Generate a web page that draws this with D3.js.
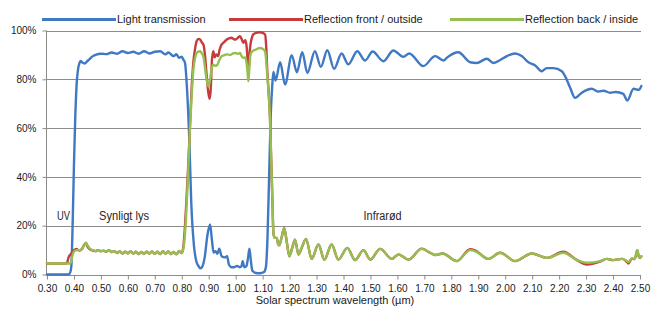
<!DOCTYPE html>
<html><head><meta charset="utf-8">
<script src="https://cdn.jsdelivr.net/npm/d3@7"></script>
<style>
html,body{margin:0;padding:0;background:#fff;}
svg{display:block;font-family:"Liberation Sans",Arial,sans-serif;}
</style></head>
<body><svg id="c" width="651" height="311"></svg>
<script>
// ---- data ----
const xTickLabels = ["0.30","0.40","0.50","0.60","0.70","0.80","0.90","1.00","1.10","1.20","1.30","1.40","1.50","1.60","1.70","1.80","1.90","2.00","2.10","2.20","2.30","2.40","2.50"];
const yTickLabels = ["0%","20%","40%","60%","80%","100%"];
const seriesNames = ["Light transmission","Reflection front / outside","Reflection back / inside"];
const regionLabels = ["UV","Synligt lys","Infrarød"];

const transWl = [0.30,0.37,0.38,0.385,0.39,0.395,0.40,0.405,0.41,0.415,0.42,0.425,0.43,0.44,0.45,0.46,0.47,0.48,0.50,0.52,0.54,0.56,0.58,0.60,0.62,0.64,0.66,0.68,0.70,0.72,0.74,0.75,0.77,0.78,0.79,0.80,0.806,0.812,0.82,0.828,0.835,0.845,0.855,0.862,0.868,0.875,0.885,0.895,0.905,0.912,0.918,0.925,0.932,0.939,0.948,0.96,0.968,0.975,0.985,0.995,1.005,1.015,1.022,1.026,1.032,1.04,1.046,1.051,1.056,1.062,1.075,1.09,1.105,1.112,1.118,1.124,1.13,1.136,1.14,1.148,1.165,1.183,1.208,1.227,1.247,1.266,1.294,1.316,1.340,1.365,1.393,1.418,1.451,1.480,1.508,1.548,1.585,1.622,1.644,1.696,1.740,1.771,1.785,1.826,1.870,1.894,1.932,1.956,1.975,2.006,2.037,2.061,2.086,2.111,2.135,2.154,2.179,2.210,2.222,2.241,2.259,2.284,2.321,2.346,2.365,2.389,2.41,2.438,2.453,2.476,2.495,2.505];
const transVal = [0,0,0,0.5,3,20,45,65,78,84,86.5,87.5,87,86.5,87.5,88.5,89.5,90,90.5,90.3,91,90.5,91.5,90.8,91.3,90.5,91.5,90.6,91.3,91.5,90.2,91,89.5,90.3,88.8,89.3,88,86.7,75,55,30,12,5,3.5,2.5,3,7,16,20.5,14,9,9.5,8.5,10.6,7.5,7,7.5,4,3,3,3.5,3,3.5,5.5,3,3.5,7,10.6,6,1.5,0.6,0.5,1,3,15,40,65,78,83,79.5,87,77.9,89.8,82.9,91.1,82.6,91.5,85.1,91.9,84.3,90.6,86.1,91.5,87.7,91.4,87.4,91.8,89.2,90.6,85.4,89.5,87.7,89,91.1,87,86.7,88.4,86.7,87.5,89.5,90.6,89.5,87,85.7,83.3,84.6,84.6,83.3,81.3,76.5,72.4,74.5,76.1,75,75.3,74.5,74.8,74,71.3,76.1,75.7,77.3];

const visWl = [0.48,0.49,0.50,0.51,0.52,0.53,0.54,0.55,0.56,0.57,0.58,0.59,0.60,0.61,0.62,0.63,0.64,0.65,0.66,0.67,0.68,0.69,0.70,0.71,0.72,0.73,0.74,0.75,0.76,0.77,0.78,0.79,0.80];
const visVal = [9.6,10,9.5,9.8,9.4,10,9.2,9.6,8.8,9.4,8.6,9.3,8.7,9.4,8.6,9.3,8.4,9.2,8.5,9.3,8.6,9.4,8.5,9.3,8.4,9.5,8.6,9.4,8.4,9.2,8.3,9.5,8.8];

const frontWl = [0.30,0.37,0.375,0.38,0.39,0.40,0.41,0.415,0.42,0.43,0.44,0.445,0.45,0.46,0.47].concat(visWl,[0.806,0.812,0.818,0.824,0.83,0.836,0.843,0.85,0.855,0.862,0.868,0.875,0.88,0.886,0.892,0.898,0.903,0.907,0.912,0.917,0.922,0.928,0.935,0.94,0.948,0.955,0.967,0.975,0.985,0.992,1.0,1.008,1.016,1.022,1.028,1.035,1.04,1.044,1.047,1.051,1.055,1.06,1.065,1.075,1.09,1.1,1.109,1.113,1.117,1.122,1.127,1.131,1.134,1.137,1.14,1.145,1.152,1.158,1.162,1.17,1.18,1.19,1.199,1.21,1.22,1.233,1.245,1.261,1.282,1.307,1.329,1.356,1.381,1.414,1.443,1.474,1.499,1.536,1.579,1.604,1.641,1.69,1.72,1.74,1.768,1.82,1.87,1.89,1.937,1.981,2.037,2.098,2.154,2.216,2.266,2.303,2.352,2.377,2.40,2.42,2.435,2.45,2.457,2.47,2.48,2.485,2.49,2.495,2.50,2.505]);
const frontVal = [4.5,4.5,5,7,8.5,10,10.5,10,9.8,10.5,12.5,12.8,11.5,10.2,9.8].concat(visVal,[11.6,20,32,45,60,75,87,93,95.6,96.5,96.3,95,94.3,90,82,75,72,75,88,91.5,89,90.2,89.5,92,94.3,95,96.3,96.8,97,96.5,96.3,97,97.7,96.5,95,96,94,88,82.7,90,94.3,97,98.4,99,99.3,99,98.4,94,84,75,65,50,39,27,17,15,15,12.3,12,15,19.1,13,7.5,11,14.3,8.2,11,14.6,6.4,12.3,6.1,12.3,6.1,10.9,5.9,10,6.1,10.5,6.4,8.2,6.1,10.6,9,8,8.6,5.5,10.4,9.8,6.4,8.9,5.5,8.6,6.8,9.3,5.9,4.1,5.3,6.4,5.9,6.2,6.4,5.3,4.5,6.5,6.3,8,10,7.5,6.8,7.5]);

const backWl = [0.30,0.385,0.39,0.395,0.40,0.41,0.42,0.43,0.44,0.445,0.45,0.46,0.47].concat(visWl,[0.805,0.81,0.815,0.82,0.826,0.83,0.836,0.843,0.85,0.855,0.868,0.875,0.88,0.886,0.892,0.899,0.905,0.912,0.917,0.925,0.932,0.94,0.948,0.955,0.967,0.98,0.99,1.0,1.01,1.016,1.022,1.028,1.035,1.04,1.044,1.047,1.051,1.055,1.062,1.075,1.09,1.1,1.109,1.113,1.117,1.122,1.127,1.131,1.134,1.137,1.14,1.145,1.152,1.158,1.162,1.17,1.18,1.19,1.199,1.21,1.22,1.233,1.245,1.261,1.282,1.307,1.329,1.356,1.381,1.414,1.443,1.474,1.499,1.536,1.579,1.604,1.641,1.69,1.72,1.74,1.768,1.82,1.87,1.89,1.937,1.981,2.037,2.098,2.154,2.216,2.266,2.303,2.352,2.377,2.40,2.42,2.435,2.45,2.457,2.47,2.48,2.485,2.49,2.495,2.50,2.505]);
const backVal = [4.5,4.5,5.5,8,9.5,10,10,10.5,12.5,13,12,10.5,10].concat(visVal,[10,14,22,33,48,59,72,84,89,90.8,91.5,90.5,89.5,85,80,77,80,85,86,85.5,86,88,89.5,89.8,90.2,90,90.6,90.8,90.4,90.8,89.5,88.8,89,87,83,79.2,85,90.2,91.5,92.2,92.8,92.5,91.5,88,82,75,65,50,39,27,17,15,15,12.3,12,15,19.1,13,7.5,11,14.3,8.2,11,14.6,6.4,12.3,6.1,12.3,6.1,10.9,5.9,10,6.1,10.5,6.4,8.2,6.1,10.5,9,8,8.6,5.5,10,9.5,6.4,8.9,5.5,8.6,6.8,8.9,5.9,4.8,5.5,6.4,5.9,6.2,6.4,5.6,5.1,6.6,6.3,8,10,7.5,6.8,7.5]);

// ---- chart ----
const svg = d3.select("#c");
const x = d3.scaleLinear().domain([0.30,2.50]).range([47,640]);
const y = d3.scaleLinear().domain([0,100]).range([274.5,30.5]);
const colors = ["#3f78c3","#c63c3c","#95bf4f"];

// gridlines
svg.append("g").selectAll("line").data([20,40,60,80,100]).join("line")
  .attr("x1",46).attr("x2",641).attr("y1",d=>Math.round(y(d))+0.5).attr("y2",d=>Math.round(y(d))+0.5)
  .attr("stroke","#8c8c8c").attr("stroke-width",1);

// axes
const xAxis = d3.axisBottom(x).tickValues(xTickLabels.map(Number)).tickFormat((d,i)=>xTickLabels[i]).tickSize(4).tickPadding(5);
const gx = svg.append("g").attr("transform",`translate(0,${Math.round(y(0))+0.5})`).call(xAxis);
gx.select(".domain").attr("d","M46,0H641").attr("stroke","#8c8c8c");
gx.selectAll(".tick line").attr("stroke","#8c8c8c");
gx.selectAll(".tick text").attr("fill","#1a1a1a").style("font-size","10px").style("font-family","'Liberation Sans',Arial,sans-serif");

const yAxis = d3.axisLeft(y).tickValues([0,20,40,60,80,100]).tickFormat((d,i)=>yTickLabels[i]).tickSize(4).tickPadding(6);
const gy = svg.append("g").attr("transform","translate(46.5,0)").call(yAxis);
gy.select(".domain").attr("d",`M0,${y(100)}V${y(0)}`).attr("stroke","#8c8c8c");
gy.selectAll(".tick line").attr("stroke","#8c8c8c");
gy.selectAll(".tick text").attr("fill","#1a1a1a").style("font-size","10px").style("font-family","'Liberation Sans',Arial,sans-serif");

// region labels
const regionX = [0.361,0.586,1.545];
const regionW = [13,50,38];
svg.append("g").selectAll("text").data(regionLabels).join("text")
  .attr("x",(d,i)=>x(regionX[i])).attr("y",220).attr("text-anchor","middle")
  .attr("textLength",(d,i)=>regionW[i]).attr("lengthAdjust","spacingAndGlyphs")
  .attr("fill","#262626").style("font-size","12.5px")
  .text(d=>d);

// series lines
const line = d3.line().x(d=>x(d[0])).y(d=>y(d[1])).curve(d3.curveMonotoneX);
const series = [
  d3.zip(transWl,transVal),
  d3.zip(frontWl,frontVal),
  d3.zip(backWl,backVal)
];
svg.append("g").selectAll("path").data(series).join("path")
  .attr("d",line).attr("fill","none")
  .attr("stroke",(d,i)=>colors[i]).attr("stroke-width",2.4)
  .attr("stroke-linejoin","round").attr("stroke-linecap","round");

// legend
const legX = [42,229,450];
const lg = svg.append("g").selectAll("g").data(seriesNames).join("g")
  .attr("transform",(d,i)=>`translate(${legX[i]},19.5)`);
lg.append("line").attr("x1",0).attr("x2",74).attr("y1",0).attr("y2",0)
  .attr("stroke",(d,i)=>colors[i]).attr("stroke-width",3);
lg.append("text").attr("x",75).attr("y",3.8).attr("fill","#1a1a1a")
  .style("font-size","11px").text(d=>d);

// axis title
svg.append("text").attr("x",335).attr("y",303.5).attr("text-anchor","middle")
  .attr("fill","#1a1a1a").style("font-size","11px").text("Solar spectrum wavelength (µm)");
</script></body></html>
